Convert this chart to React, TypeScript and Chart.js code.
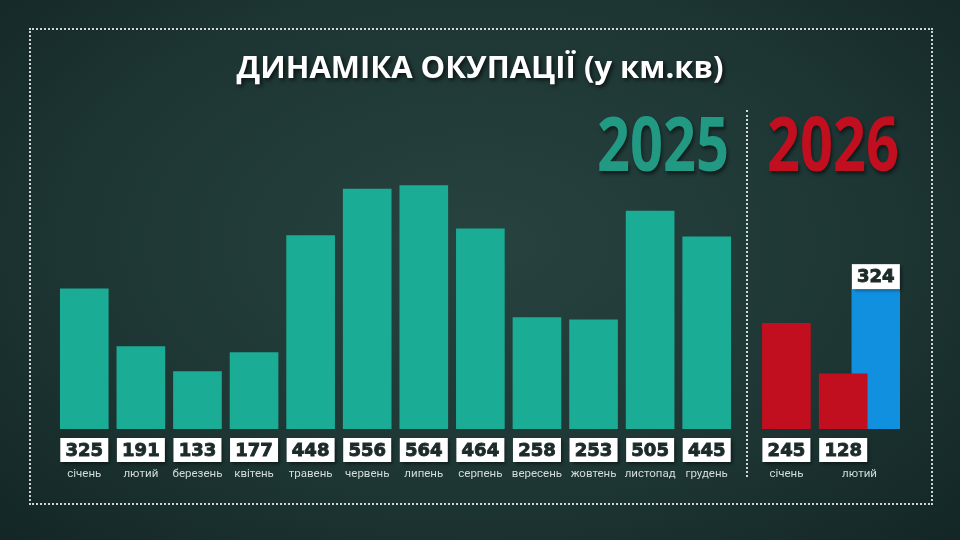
import React, { useEffect, useRef } from "react";
import { Chart, registerables } from "chart.js";

Chart.register(...registerables);

const months2025 = ["січень", "лютий", "березень", "квітень", "травень", "червень", "липень", "серпень", "вересень", "жовтень", "листопад", "грудень"];
const values2025 = [325, 191, 133, 177, 448, 556, 564, 464, 258, 253, 505, 445];
const months2026 = ["січень", "лютий"];
const values2026 = [245, 128];
const updated2026: (number | null)[] = [null, 324];

const TEAL = "#1bac95";
const RED = "#c10f1f";
const BLUE = "#1190e0";
const Y_MAX = 600;
const UPDATE_SHIFT = 0.575; // blue bar sits to the right of its red twin

const boxFont = "bold 18px 'DejaVu Sans'";
const monthFont = "11.5px Roboto";

function drawBox(ctx: CanvasRenderingContext2D, cx: number, top: number, w: number, h: number, text: string) {
  ctx.save();
  ctx.shadowColor = "rgba(0,0,0,0.45)";
  ctx.shadowOffsetX = 2;
  ctx.shadowOffsetY = 2;
  ctx.shadowBlur = 3;
  ctx.fillStyle = "#ffffff";
  ctx.fillRect(cx - w / 2, top, w, h);
  ctx.restore();
  ctx.save();
  ctx.font = boxFont;
  ctx.fillStyle = "#1c2b2a";
  ctx.strokeStyle = "#1c2b2a";
  ctx.lineWidth = 0.9;
  ctx.textAlign = "center";
  ctx.textBaseline = "middle";
  ctx.fillText(text, cx, top + h / 2 + 1);
  ctx.strokeText(text, cx, top + h / 2 + 1);
  ctx.restore();
}

const labelPlugin = {
  id: "barLabels",
  afterDatasetsDraw(chart: any, _args: any, opts: any) {
    const ctx = chart.ctx as CanvasRenderingContext2D;
    const y0 = chart.scales.y.getPixelForValue(0);
    const months: string[] = opts.months || [];
    const main = chart.getDatasetMeta(0);
    const extra = chart.data.datasets.length > 1 ? chart.getDatasetMeta(1) : null;
    const monthX: number[] = main.data.map((el: any) => el.x);

    if (extra) {
      extra.data.forEach((el: any, i: number) => {
        const raw = chart.data.datasets[1].data[i];
        drawBox(ctx, el.x, el.y - 25, el.width, 25, String(raw.y));
        const idx = Math.floor(raw.x);
        monthX[idx] = (monthX[idx] + el.x) / 2;
      });
    }

    main.data.forEach((el: any, i: number) => {
      const raw = chart.data.datasets[0].data[i];
      const v = typeof raw === "number" ? raw : raw.y;
      drawBox(ctx, el.x, y0 + 9, el.width, 24, String(v));
    });

    ctx.save();
    ctx.font = monthFont;
    ctx.fillStyle = "#d3dcd9";
    ctx.textAlign = "center";
    ctx.textBaseline = "middle";
    months.forEach((m, i) => ctx.fillText(m, monthX[i], y0 + 45));
    ctx.restore();
  },
};

const padding2025 = { left: 56, right: 225, top: 170, bottom: 111 };
const padding2026 = { left: 758, right: 60, top: 170, bottom: 111 };

const Chart2025: React.FC = () => {
  const ref = useRef<HTMLCanvasElement | null>(null);
  useEffect(() => {
    if (!ref.current) return;
    const chart = new Chart(ref.current, {
      type: "bar",
      data: {
        labels: months2025,
        datasets: [{ data: values2025, backgroundColor: TEAL, barThickness: 48 }],
      },
      options: {
        animation: false,
        responsive: true,
        maintainAspectRatio: false,
        layout: { padding: padding2025 },
        plugins: { legend: { display: false }, tooltip: { enabled: false }, barLabels: { months: months2025 } } as any,
        scales: {
          x: { display: false },
          y: { display: false, min: 0, max: Y_MAX },
        },
      },
      plugins: [labelPlugin],
    });
    return () => chart.destroy();
  }, []);
  return (
    <div style={{ position: "absolute", left: 0, top: 0, width: 960, height: 540 }}>
      <canvas ref={ref}></canvas>
    </div>
  );
};

const Chart2026: React.FC = () => {
  const ref = useRef<HTMLCanvasElement | null>(null);
  useEffect(() => {
    if (!ref.current) return;
    const redData = values2026.map((v, i) => ({ x: i, y: v }));
    const blueData = updated2026
      .map((v, i) => (v == null ? null : { x: i + UPDATE_SHIFT, y: v }))
      .filter((p) => p !== null) as { x: number; y: number }[];
    const chart = new Chart(ref.current, {
      type: "bar",
      data: {
        datasets: [
          { data: redData, backgroundColor: RED, barThickness: 48, grouped: false },
          { data: blueData, backgroundColor: BLUE, barThickness: 48, grouped: false },
        ],
      },
      options: {
        animation: false,
        responsive: true,
        maintainAspectRatio: false,
        layout: { padding: padding2026 },
        plugins: { legend: { display: false }, tooltip: { enabled: false }, barLabels: { months: months2026 } } as any,
        scales: {
          x: { type: "linear", display: false, offset: false, min: -0.5, max: 2.0 },
          y: { display: false, min: 0, max: Y_MAX },
        },
      },
      plugins: [labelPlugin],
    });
    return () => chart.destroy();
  }, []);
  return (
    <div style={{ position: "absolute", left: 0, top: 0, width: 960, height: 540 }}>
      <canvas ref={ref}></canvas>
    </div>
  );
};

const yearStyle: React.CSSProperties = {
  position: "absolute",
  top: 104,
  font: "bold 76px 'Open Sans'",
  lineHeight: 1,
  transform: "scaleX(0.76)",
  transformOrigin: "left top",
  textShadow: "2px 3px 4px rgba(0,0,0,0.5)",
  whiteSpace: "nowrap",
};

const App: React.FC = () => {
  return (
    <div
      style={{
        position: "fixed",
        left: 0,
        top: 0,
        width: 960,
        height: 540,
        overflow: "hidden",
        background: "radial-gradient(ellipse at 50% 45%, #27423f 0%, #1e3735 55%, #132625 100%)",
      }}
    >
      <div
        style={{
          position: "absolute",
          left: 29,
          top: 28,
          width: 900,
          height: 473,
          border: "2px dotted rgba(255,255,255,0.8)",
        }}
      />
      <div
        style={{
          position: "absolute",
          left: 746,
          top: 110,
          height: 367,
          borderLeft: "2px dotted rgba(255,255,255,0.8)",
        }}
      />
      <div
        style={{
          position: "absolute",
          left: 0,
          top: 51,
          width: 960,
          textAlign: "center",
          font: "bold 31px 'Open Sans'",
          lineHeight: 1,
          color: "#ffffff",
          textShadow: "2px 2px 4px rgba(0,0,0,0.7)",
        }}
      >
        ДИНАМІКА ОКУПАЦІЇ (у км.кв)
      </div>
      <div style={{ ...yearStyle, left: 597, color: "#229a83" }}>2025</div>
      <div style={{ ...yearStyle, left: 767, color: RED }}>2026</div>
      <Chart2025 />
      <Chart2026 />
    </div>
  );
};

export default App;
